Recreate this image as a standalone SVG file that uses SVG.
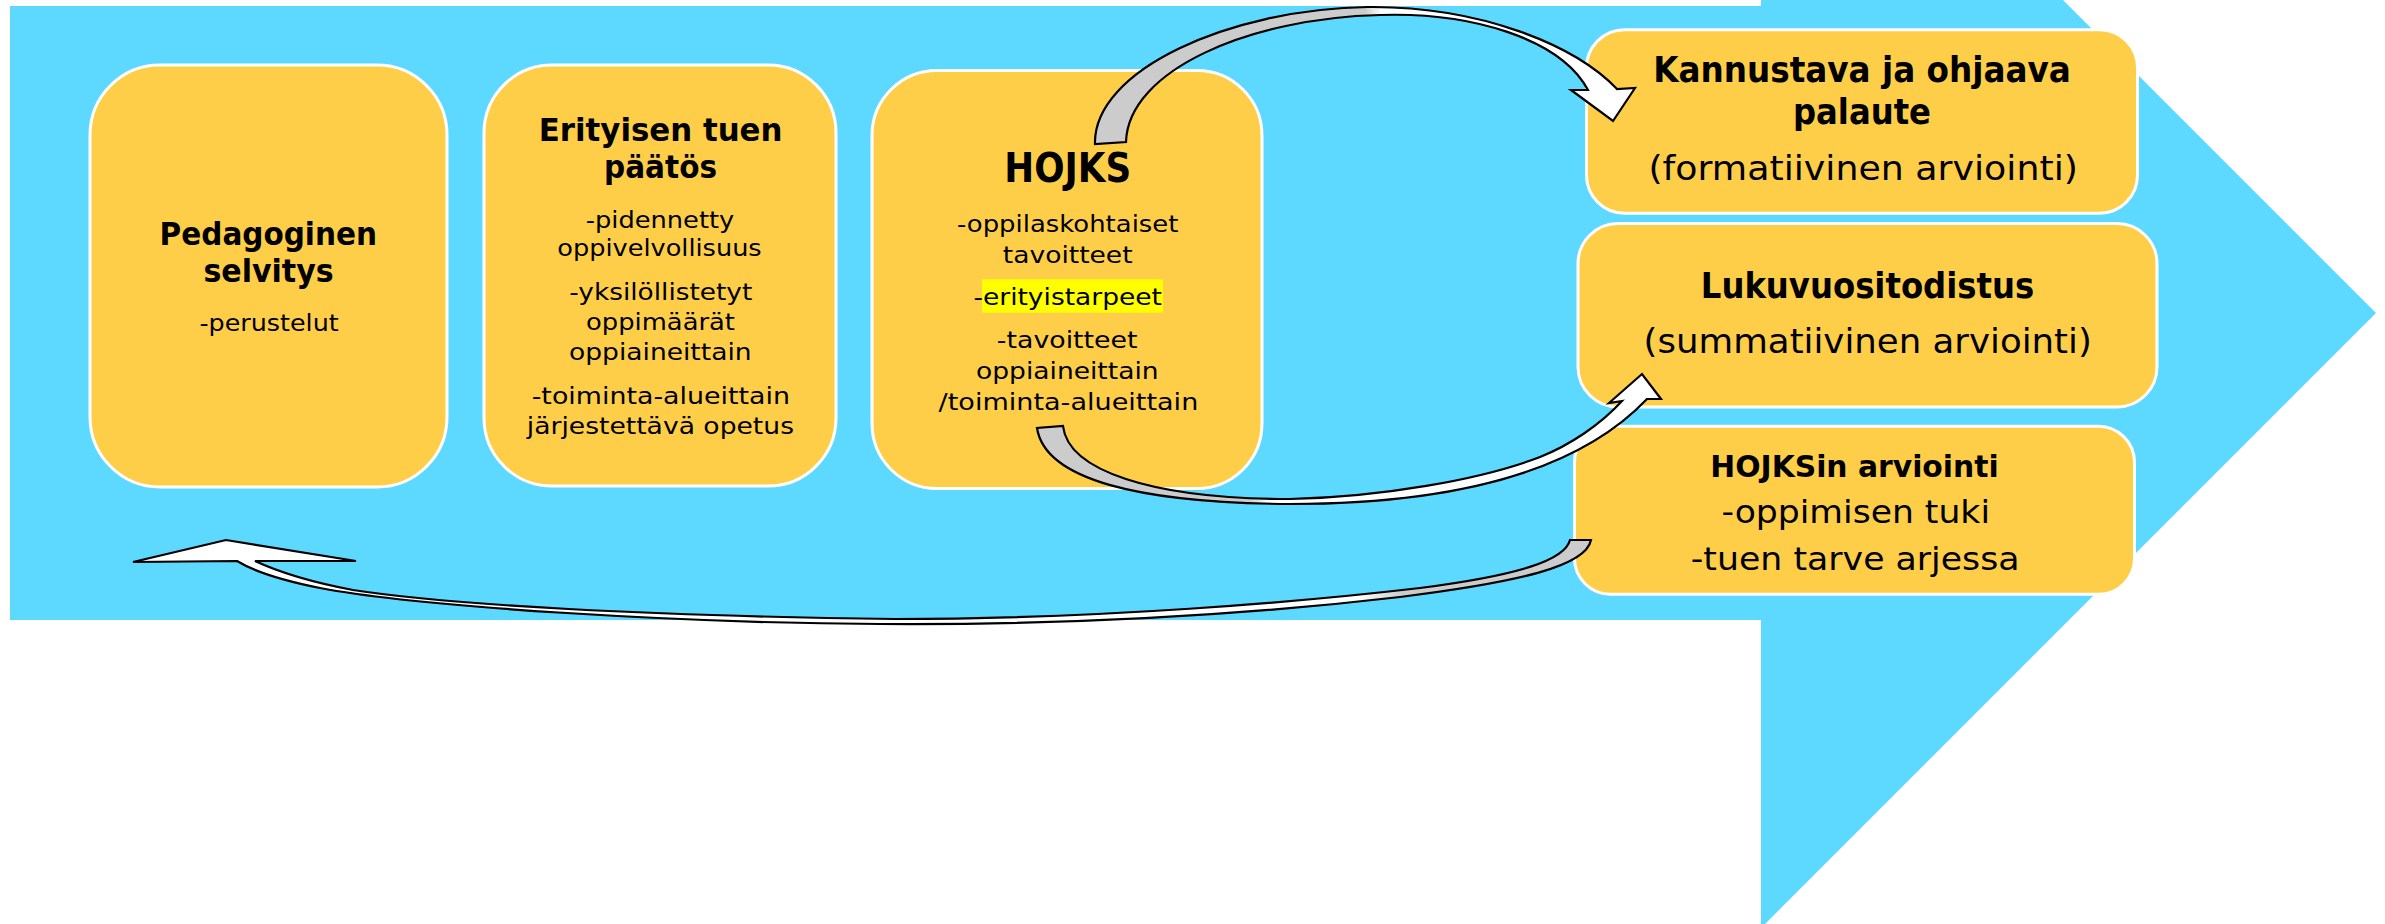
<svg xmlns="http://www.w3.org/2000/svg" width="2385" height="924" viewBox="0 0 2385 924">
<defs>
<style>
.box{fill:#FECE48;stroke:#FFFFFF;stroke-width:3}
.t{font-family:'DejaVu Sans',Verdana,sans-serif;fill:#000000}
.b{font-weight:bold}
.s1{font-size:32px}
.s2{font-size:23.5px}
.r1{font-size:36px}
.r2{font-size:34px}
.r3{font-size:31px}
.r4{font-size:32px}
.arr{stroke:#000000;stroke-width:2.2;stroke-linejoin:miter}
</style>
<linearGradient id="gA" gradientUnits="userSpaceOnUse" x1="1090" y1="0" x2="1640" y2="0">
<stop offset="0" stop-color="#CCCCCC"/><stop offset="0.5" stop-color="#CCCCCC"/><stop offset="0.53" stop-color="#FFFFFF"/><stop offset="1" stop-color="#FFFFFF"/>
</linearGradient>
<linearGradient id="gB" gradientUnits="userSpaceOnUse" x1="1037" y1="0" x2="1661" y2="0">
<stop offset="0" stop-color="#CCCCCC"/><stop offset="0.34" stop-color="#CCCCCC"/><stop offset="0.37" stop-color="#FFFFFF"/><stop offset="1" stop-color="#FFFFFF"/>
</linearGradient>
<linearGradient id="gC" gradientUnits="userSpaceOnUse" x1="133" y1="0" x2="1592" y2="0">
<stop offset="0" stop-color="#FFFFFF"/><stop offset="0.84" stop-color="#FFFFFF"/><stop offset="0.87" stop-color="#CCCCCC"/><stop offset="1" stop-color="#CCCCCC"/>
</linearGradient>
</defs>
<rect x="0" y="0" width="2385" height="924" fill="#FFFFFF"/>
<polygon id="big-arrow" points="10,6 1761,6 1761,-302 2376,313 1761,928 1761,620 10,620" fill="#5DD8FE"/>

<g id="node-pedagoginen">
<rect class="box" x="90" y="65" width="357" height="422" rx="70" ry="70"/>
<text class="t b s1" x="159.6" y="245" textLength="217.4" lengthAdjust="spacingAndGlyphs">Pedagoginen</text>
<text class="t b s1" x="203.4" y="282" textLength="130.3" lengthAdjust="spacingAndGlyphs">selvitys</text>
<text class="t s2" x="199.4" y="331" textLength="139.3" lengthAdjust="spacingAndGlyphs">-perustelut</text>
</g>

<g id="node-erityisen-tuen-paatos">
<rect class="box" x="484" y="65" width="352" height="421" rx="68" ry="68"/>
<text class="t b s1" x="538.7" y="141" textLength="243.8" lengthAdjust="spacingAndGlyphs">Erityisen tuen</text>
<text class="t b s1" x="604" y="178" textLength="113" lengthAdjust="spacingAndGlyphs">päätös</text>
<text class="t s2" x="585.7" y="228" textLength="148.6" lengthAdjust="spacingAndGlyphs">-pidennetty</text>
<text class="t s2" x="557.3" y="256" textLength="204.4" lengthAdjust="spacingAndGlyphs">oppivelvollisuus</text>
<text class="t s2" x="569.3" y="300" textLength="183" lengthAdjust="spacingAndGlyphs">-yksilöllistetyt</text>
<text class="t s2" x="586" y="329.5" textLength="149" lengthAdjust="spacingAndGlyphs">oppimäärät</text>
<text class="t s2" x="569" y="360" textLength="182.6" lengthAdjust="spacingAndGlyphs">oppiaineittain</text>
<text class="t s2" x="531.7" y="404" textLength="258.3" lengthAdjust="spacingAndGlyphs">-toiminta-alueittain</text>
<text class="t s2" x="526.8" y="433.5" textLength="267.2" lengthAdjust="spacingAndGlyphs">järjestettävä opetus</text>
</g>

<g id="node-hojks">
<rect class="box" x="872" y="70.5" width="390" height="418" rx="65" ry="65"/>
<text class="t b" style="font-size:41px" x="1004.3" y="181.7" textLength="126.9" lengthAdjust="spacingAndGlyphs">HOJKS</text>
<text class="t s2" x="957" y="231.7" textLength="221.4" lengthAdjust="spacingAndGlyphs">-oppilaskohtaiset</text>
<text class="t s2" x="1002.8" y="263.3" textLength="129.8" lengthAdjust="spacingAndGlyphs">tavoitteet</text>
<rect x="982" y="279.3" width="181" height="33.4" fill="#FFFF00"/>
<text class="t s2" x="973.4" y="305" textLength="188.6" lengthAdjust="spacingAndGlyphs">-erityistarpeet</text>
<text class="t s2" x="996.8" y="348.3" textLength="140.8" lengthAdjust="spacingAndGlyphs">-tavoitteet</text>
<text class="t s2" x="976" y="379.3" textLength="182.6" lengthAdjust="spacingAndGlyphs">oppiaineittain</text>
<text class="t s2" x="938.6" y="410" textLength="259.7" lengthAdjust="spacingAndGlyphs">/toiminta-alueittain</text>
</g>

<g id="node-kannustava-palaute">
<rect class="box" x="1586.5" y="29.7" width="551" height="183.5" rx="38" ry="38"/>
<text class="t b r1" x="1653.2" y="82.2" textLength="417.6" lengthAdjust="spacingAndGlyphs">Kannustava ja ohjaava</text>
<text class="t b r1" x="1793" y="124" textLength="138" lengthAdjust="spacingAndGlyphs">palaute</text>
<text class="t r2" x="1648.4" y="180" textLength="429.5" lengthAdjust="spacingAndGlyphs">(formatiivinen arviointi)</text>
</g>

<g id="node-lukuvuositodistus">
<rect class="box" x="1578" y="223.5" width="579" height="183.5" rx="40" ry="40"/>
<text class="t b r1" x="1700.8" y="297.5" textLength="333.4" lengthAdjust="spacingAndGlyphs">Lukuvuositodistus</text>
<text class="t r2" x="1643.6" y="353.3" textLength="448.2" lengthAdjust="spacingAndGlyphs">(summatiivinen arviointi)</text>
</g>

<g id="node-hojksin-arviointi">
<rect class="box" x="1574.5" y="426.3" width="560" height="168" rx="36" ry="36"/>
<text class="t b r3" x="1710.3" y="477.3" textLength="288.4" lengthAdjust="spacingAndGlyphs">HOJKSin arviointi</text>
<text class="t r4" x="1721.5" y="522.5" textLength="268.5" lengthAdjust="spacingAndGlyphs">-oppimisen tuki</text>
<text class="t r4" x="1690.8" y="570" textLength="328.8" lengthAdjust="spacingAndGlyphs">-tuen tarve arjessa</text>
</g>

<g id="connectors">
<path id="arrow-hojks-kannustava" class="arr" fill="url(#gA)" d="M1095,144 C1093,70 1230,9 1368,7 C1480,6 1575,45 1617,89 L1635,88 L1613,121 L1571,90 L1588,90 C1560,38 1470,12 1380,15 C1250,18 1128,70 1126,142 Z"/>
<path id="arrow-hojks-lukuvuositodistus" class="arr" fill="url(#gB)" d="M1037,428 C1045,480 1140,503 1290,504 C1430,504 1570,480 1647,399 L1661,399 L1642,374 L1609,403 L1622,401 C1600,425 1570,445 1540,457 C1480,480 1380,497 1290,499 C1150,499 1068,470 1063,426 Z"/>
<path id="arrow-hojksin-pedagoginen" class="arr" fill="url(#gC)" d="M1591,540 C1586,566 1520,582 1400,597 C1220,618 1040,625 880,624 C680,623 420,607 320,588 C285,581 255,572 237,561 L133,562 L226,540 L356,561 L255,561 C270,568 300,580 353,590 C450,605 650,616 895,619 C1100,619 1300,602 1420,588 C1520,575 1565,560 1570,540 Z"/>
</g>
</svg>
